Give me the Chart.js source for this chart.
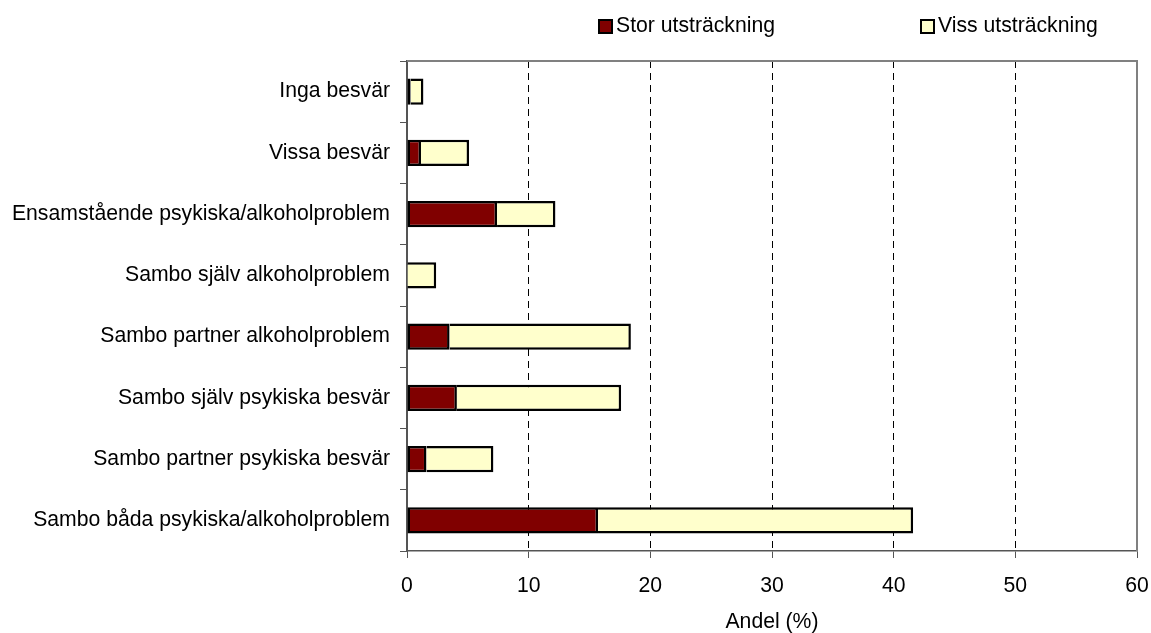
<!DOCTYPE html>
<html>
<head>
<meta charset="utf-8">
<script src="https://cdn.jsdelivr.net/npm/chart.js@4.4.1/dist/chart.umd.min.js"></script>
<style>
html,body{margin:0;padding:0;background:#fff;}
#wrap{width:1151px;height:633px;position:relative;}
</style>
</head>
<body>
<div id="wrap"><canvas id="c" width="1151" height="633"></canvas></div>
<script>
const categories = [
  "Inga besvär",
  "Vissa besvär",
  "Ensamstående psykiska/alkoholproblem",
  "Sambo själv alkoholproblem",
  "Sambo partner alkoholproblem",
  "Sambo själv psykiska besvär",
  "Sambo partner psykiska besvär",
  "Sambo båda psykiska/alkoholproblem"
];
const storValues = [0.3, 1.15, 7.4, 0, 3.5, 4.1, 1.6, 15.7];
const vissValues = [1.05, 3.95, 4.8, 2.4, 14.9, 13.5, 5.5, 25.9];
const seriesNames = ["Stor utsträckning", "Viss utsträckning"];
const seriesColors = ["#800000", "#FFFFCC"];
const xTicks = [0, 10, 20, 30, 40, 50, 60];
const axisTitle = "Andel (%)";

const FONT = "'Liberation Sans', Arial, sans-serif";
const FS = 21.2;

const framePlugin = {
  id: 'frame',
  beforeDatasetsDraw(chart) {
    const {ctx, chartArea: a} = chart;
    ctx.save();
    ctx.strokeStyle = '#808080';
    ctx.lineWidth = 2;
    ctx.beginPath();
    ctx.moveTo(a.left, a.top);
    ctx.lineTo(a.right, a.top);
    ctx.lineTo(a.right, a.bottom);
    ctx.stroke();
    ctx.restore();
  },
  afterDraw(chart) {
    const {ctx} = chart;
    ctx.save();
    ctx.font = FS + "px " + FONT;
    ctx.textBaseline = 'middle';
    const items = [
      {x: 599, name: seriesNames[0], color: seriesColors[0]},
      {x: 921, name: seriesNames[1], color: seriesColors[1]}
    ];
    items.forEach(it => {
      ctx.fillStyle = it.color;
      ctx.fillRect(it.x, 20, 13, 13);
      ctx.strokeStyle = '#000';
      ctx.lineWidth = 2;
      ctx.strokeRect(it.x, 20, 13, 13);
      ctx.fillStyle = '#000';
      ctx.fillText(it.name, it.x + 17, 26.5);
    });
    ctx.restore();
  }
};

new Chart(document.getElementById('c'), {
  type: 'bar',
  data: {
    labels: categories,
    datasets: [
      {label: seriesNames[0], data: storValues, backgroundColor: seriesColors[0], borderColor: '#000', borderWidth: 2.5, borderSkipped: false, barPercentage: 0.43, categoryPercentage: 1},
      {label: seriesNames[1], data: vissValues, backgroundColor: seriesColors[1], borderColor: '#000', borderWidth: {top: 2.5, right: 2.5, bottom: 2.5, left: 0}, borderSkipped: false, barPercentage: 0.43, categoryPercentage: 1}
    ]
  },
  options: {
    indexAxis: 'y',
    responsive: false,
    animation: false,
    devicePixelRatio: 1,
    layout: {padding: {top: 61, right: 14, left: 0, bottom: 0}},
    plugins: {legend: {display: false}, tooltip: {enabled: false}},
    scales: {
      x: {
        stacked: true,
        min: 0, max: 60,
        afterBuildTicks(scale) { scale.ticks = xTicks.map(v => ({value: v})); },
        afterFit(scale) { scale.height = 82; scale.paddingLeft = 0; scale.paddingRight = 0; },
        border: {display: true, color: '#555', width: 1.5, dash: [7, 5]},
        grid: {
          color: ctx => (ctx.tick && (ctx.tick.value === 0 || ctx.tick.value === 60)) ? 'rgba(0,0,0,0)' : '#000',
          tickColor: '#555',
          tickLength: 7,
          lineWidth: 1,
          drawTicks: true
        },
        ticks: {color: '#000', font: {size: FS, family: FONT}, padding: 15, maxRotation: 0},
        title: {display: true, text: axisTitle, color: '#000', font: {size: FS, family: FONT}, padding: {top: 4, bottom: -2}}
      },
      y: {
        stacked: true,
        afterFit(scale) { scale.width = 407; scale.paddingTop = 0; scale.paddingBottom = 0; },
        border: {display: true, color: '#555', width: 2},
        grid: {
          offset: true,
          drawOnChartArea: false,
          drawTicks: true,
          tickLength: 7,
          tickColor: '#555',
          color: '#555'
        },
        ticks: {color: '#000', font: {size: FS, family: FONT}, padding: 10, autoSkip: false}
      }
    }
  },
  plugins: [framePlugin]
});
</script>
</body>
</html>
